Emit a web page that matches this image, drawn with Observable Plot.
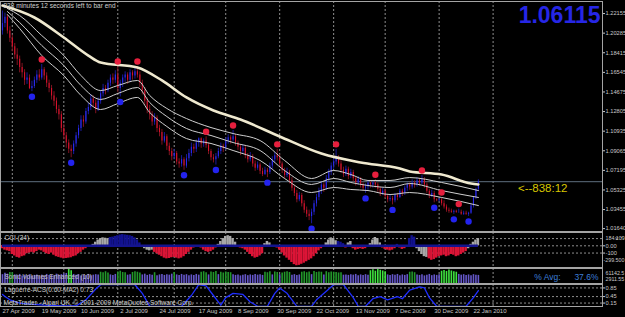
<!DOCTYPE html>
<html><head><meta charset="utf-8">
<script src="https://cdn.jsdelivr.net/npm/d3@7"></script>
<script src="https://cdn.jsdelivr.net/npm/@observablehq/plot@0.6"></script>
<style>
html,body{margin:0;padding:0;background:#000;}
#chart{position:relative;width:625px;height:317px;background:#000;overflow:hidden;}
#chart svg{position:absolute;left:0;display:block;}
</style></head>
<body><div id="chart"></div>
<script>
// ---------- data (USDCAD daily bars, index 0 = 27 Apr 2009) ----------
const open = [1.205,1.212,1.218,1.205,1.198,1.190,1.182,1.178,1.170,1.165,
1.158,1.160,1.150,1.152,1.158,1.163,1.160,1.168,1.162,1.155,
1.150,1.143,1.138,1.130,1.125,1.112,1.105,1.098,1.092,1.090,
1.097,1.105,1.112,1.120,1.118,1.128,1.132,1.140,1.136,1.130,
1.138,1.145,1.150,1.148,1.155,1.160,1.158,1.163,1.150,1.155,
1.160,1.163,1.158,1.165,1.162,1.166,1.163,1.155,1.148,1.138,
1.130,1.125,1.118,1.122,1.112,1.108,1.100,1.104,1.095,1.090,
1.085,1.088,1.080,1.078,1.082,1.076,1.083,1.088,1.094,1.092,
1.098,1.102,1.097,1.100,1.096,1.090,1.084,1.082,1.085,1.090,
1.095,1.093,1.100,1.103,1.101,1.104,1.098,1.094,1.090,1.093,
1.086,1.082,1.085,1.078,1.074,1.077,1.071,1.068,1.072,1.070,
1.076,1.082,1.086,1.084,1.078,1.072,1.067,1.070,1.062,1.055,
1.050,1.044,1.048,1.040,1.034,1.030,1.028,1.032,1.040,1.046,
1.052,1.058,1.055,1.064,1.070,1.076,1.080,1.084,1.078,1.072,
1.068,1.073,1.066,1.070,1.064,1.060,1.063,1.058,1.055,1.056,
1.060,1.058,1.060,1.058,1.054,1.050,1.052,1.047,1.044,1.045,
1.043,1.048,1.046,1.052,1.050,1.055,1.058,1.056,1.060,1.058,
1.062,1.060,1.063,1.058,1.052,1.048,1.050,1.044,1.043,1.044,
1.040,1.037,1.034,1.033,1.032,1.033,1.032,1.032,1.030,1.031,
1.030,1.031,1.038,1.046,1.054];
const high = [1.224,1.222,1.220,1.209,1.201,1.193,1.188,1.181,1.174,1.168,
1.165,1.163,1.157,1.161,1.167,1.168,1.173,1.170,1.165,1.158,
1.153,1.147,1.141,1.134,1.128,1.116,1.108,1.101,1.096,1.100,
1.108,1.115,1.124,1.124,1.131,1.136,1.144,1.143,1.139,1.141,
1.148,1.154,1.153,1.158,1.163,1.164,1.167,1.171,1.158,1.163,
1.166,1.165,1.168,1.167,1.169,1.171,1.166,1.158,1.151,1.141,
1.134,1.128,1.126,1.124,1.115,1.111,1.108,1.106,1.098,1.093,
1.092,1.090,1.083,1.086,1.084,1.087,1.092,1.098,1.097,1.101,
1.103,1.103,1.102,1.104,1.098,1.092,1.087,1.088,1.093,1.098,
1.097,1.103,1.106,1.105,1.110,1.106,1.100,1.096,1.096,1.095,
1.088,1.089,1.087,1.081,1.080,1.079,1.074,1.075,1.074,1.079,
1.085,1.089,1.092,1.087,1.080,1.074,1.074,1.072,1.065,1.058,
1.053,1.051,1.050,1.043,1.037,1.034,1.035,1.043,1.049,1.055,
1.061,1.060,1.067,1.073,1.079,1.083,1.092,1.086,1.081,1.075,
1.076,1.075,1.073,1.072,1.066,1.066,1.065,1.060,1.059,1.062,
1.062,1.061,1.063,1.060,1.056,1.055,1.054,1.049,1.048,1.047,
1.050,1.050,1.054,1.054,1.057,1.060,1.060,1.063,1.062,1.065,
1.064,1.067,1.065,1.060,1.054,1.053,1.052,1.045,1.045,1.046,
1.043,1.039,1.036,1.035,1.034,1.034,1.035,1.034,1.033,1.033,
1.032,1.040,1.047,1.055,1.063];
const low = [1.201,1.208,1.202,1.194,1.185,1.178,1.172,1.165,1.160,1.153,
1.154,1.149,1.147,1.150,1.155,1.157,1.158,1.158,1.151,1.146,
1.139,1.133,1.126,1.120,1.108,1.101,1.093,1.088,1.084,1.087,
1.094,1.102,1.109,1.113,1.116,1.125,1.129,1.132,1.126,1.128,
1.135,1.142,1.144,1.146,1.152,1.154,1.155,1.146,1.142,1.151,
1.156,1.154,1.156,1.158,1.159,1.160,1.151,1.144,1.134,1.126,
1.120,1.114,1.115,1.108,1.104,1.096,1.098,1.091,1.086,1.081,
1.082,1.077,1.074,1.075,1.072,1.074,1.080,1.085,1.088,1.089,
1.094,1.093,1.094,1.093,1.087,1.081,1.079,1.077,1.083,1.087,
1.089,1.091,1.097,1.097,1.099,1.095,1.091,1.086,1.088,1.083,
1.079,1.080,1.075,1.071,1.072,1.068,1.066,1.067,1.065,1.068,
1.073,1.079,1.081,1.075,1.069,1.064,1.065,1.059,1.052,1.047,
1.041,1.042,1.037,1.031,1.027,1.024,1.021,1.029,1.037,1.043,
1.049,1.051,1.053,1.061,1.067,1.073,1.077,1.075,1.069,1.065,
1.066,1.063,1.064,1.061,1.057,1.058,1.055,1.052,1.050,1.053,
1.055,1.055,1.055,1.051,1.047,1.048,1.045,1.041,1.042,1.039,
1.041,1.043,1.045,1.047,1.048,1.052,1.053,1.054,1.055,1.056,
1.057,1.058,1.055,1.050,1.045,1.046,1.041,1.042,1.042,1.038,
1.035,1.032,1.031,1.031,1.030,1.031,1.031,1.029,1.029,1.029,
1.028,1.030,1.036,1.044,1.052];
const close = [1.212,1.218,1.205,1.198,1.190,1.182,1.178,1.170,1.165,1.158,
1.160,1.150,1.152,1.158,1.163,1.160,1.168,1.162,1.155,1.150,
1.143,1.138,1.130,1.125,1.112,1.105,1.098,1.092,1.090,1.097,
1.105,1.112,1.120,1.118,1.128,1.132,1.140,1.136,1.130,1.138,
1.145,1.150,1.148,1.155,1.160,1.158,1.163,1.150,1.155,1.160,
1.163,1.158,1.165,1.162,1.166,1.163,1.155,1.148,1.138,1.130,
1.125,1.118,1.122,1.112,1.108,1.100,1.104,1.095,1.090,1.085,
1.088,1.080,1.078,1.082,1.076,1.083,1.088,1.094,1.092,1.098,
1.102,1.097,1.100,1.096,1.090,1.084,1.082,1.085,1.090,1.095,
1.093,1.100,1.103,1.101,1.104,1.098,1.094,1.090,1.093,1.086,
1.082,1.085,1.078,1.074,1.077,1.071,1.068,1.072,1.070,1.076,
1.082,1.086,1.084,1.078,1.072,1.067,1.070,1.062,1.055,1.050,
1.044,1.048,1.040,1.034,1.030,1.028,1.032,1.040,1.046,1.052,
1.058,1.055,1.064,1.070,1.076,1.080,1.084,1.078,1.072,1.068,
1.073,1.066,1.070,1.064,1.060,1.063,1.058,1.055,1.056,1.060,
1.058,1.060,1.058,1.054,1.050,1.052,1.047,1.044,1.045,1.043,
1.048,1.046,1.052,1.050,1.055,1.058,1.056,1.060,1.058,1.062,
1.060,1.063,1.058,1.052,1.048,1.050,1.044,1.043,1.044,1.040,
1.037,1.034,1.033,1.032,1.033,1.032,1.032,1.030,1.031,1.030,
1.031,1.038,1.046,1.054,1.06115];

const fractalUp = [16,47,55,83,94,112,136,152,171,179,186];
const fractalDown = [12,28,48,74,87,108,126,148,159,176,184,190];

const slowMaIdx = [0,13,25,35,40,55,65,75,86,97,113,130,146,162,166,179,191,194];
const slowMa = [1.2292,1.2178,1.1987,1.1815,1.1749,1.1701,1.1577,1.1415,1.1291,1.1205,1.1043,1.0880,1.0795,1.0737,1.0709,1.0680,1.0594,1.0585];

const fastIdx = [2,7,16,25,32,40,47,55,60,67,75,85,94,105,115,126,135,142,149,158,166,179,194];
const fastMa1 = [1.2264,1.2197,1.2006,1.1815,1.1624,1.1481,1.1529,1.1577,1.1434,1.1310,1.1214,1.1128,1.1071,1.1004,1.0814,1.0642,1.0718,1.0680,1.0623,1.0623,1.0651,1.0604,1.0527];
const fastMa2 = [1.2235,1.2130,1.1911,1.1720,1.1529,1.1396,1.1453,1.1510,1.1367,1.1233,1.1119,1.1052,1.0985,1.0909,1.0718,1.0585,1.0642,1.0604,1.0575,1.0556,1.0594,1.0527,1.0461];
const fastMa3 = [1.2206,1.2073,1.1815,1.1624,1.1434,1.1300,1.1357,1.1415,1.1272,1.1138,1.1023,1.0976,1.0909,1.0814,1.0642,1.0508,1.0556,1.0537,1.0527,1.0489,1.0508,1.0461,1.0384];

const lastPrice = 1.06115;
const minutesLeft = 838, secondsLeft = 12;
const priceTicks = [1.22155,1.20285,1.18415,1.16545,1.14675,1.12805,1.10935,1.09065,1.07195,1.05325,1.03455,1.01640];
const monthStartIdx = [4,25,47,70,91,113,135,156,178,200];
const dateIdx = [0,16,32,48,64,80,96,112,128,144,160,176,192];
const dateLabels = ["27 Apr 2009","19 May 2009","10 Jun 2009","2 Jul 2009","24 Jul 2009","17 Aug 2009","8 Sep 2009","30 Sep 2009","22 Oct 2009","13 Nov 2009","7 Dec 2009","30 Dec 2009","22 Jan 2010"];

const cci = [-40,-60,-70,-80,-120,-140,-160,-170,-150,-140,
-110,-100,-90,-100,-80,-60,-70,-90,-110,-120,
-100,-130,-150,-160,-170,-180,-175,-170,-165,-150,
-140,-110,-90,-60,-40,-20,-5,20,50,80,
100,110,105,100,115,120,130,140,150,155,
150,145,140,130,110,80,40,-20,-40,-60,
-70,-60,-90,-110,-130,-150,-170,-180,-175,-165,
-160,-170,-180,-170,-150,-120,-90,-60,-30,-20,
-10,-30,-60,-80,-90,-80,-60,-30,20,60,
100,130,140,130,100,50,-20,-30,-40,-60,
-90,-120,-150,-170,-160,-140,-110,30,60,40,
-20,-10,-30,-60,-100,-140,-170,-200,-230,-260,
-275,-270,-255,-240,-220,-200,-180,-150,-110,-70,
-40,-10,40,80,110,100,70,60,50,30,
-30,40,60,-40,-60,-50,-40,-50,-40,-20,
30,80,115,100,40,-30,-50,-60,-70,-60,
-40,20,-30,-50,-40,-20,100,140,120,-40,
-80,-120,-150,-160,-180,-200,-190,-170,-150,-140,
-130,-150,-140,-120,-130,-150,-140,-120,-100,-80,
-40,20,50,80,100];
const cciColorRuns = [[0,36,"r"],[37,43,"g"],[44,56,"n"],[57,61,"g"],[62,87,"r"],[88,95,"g"],[96,106,"r"],[107,109,"g"],[110,131,"r"],[132,136,"g"],[137,139,"n"],[140,140,"r"],[141,142,"g"],[143,149,"r"],[150,154,"g"],[155,160,"r"],[161,161,"n"],[162,165,"r"],[166,168,"n"],[169,173,"g"],[174,189,"r"],[190,194,"g"]];

const volume = [36000,42000,38000,45000,44000,35000,33000,37000,31000,34000,
32000,36000,30000,33000,35000,29000,34000,31000,37000,33000,
35000,32000,38000,34000,36000,39000,41000,61000,52000,37000,
34000,36000,31000,35000,33000,37000,32000,34000,36000,35000,
46000,44000,48000,43000,35000,33000,37000,47000,50000,45000,
44000,34000,36000,45000,48000,46000,43000,35000,38000,33000,
36000,34000,44000,32000,35000,37000,33000,36000,34000,38000,
45000,35000,33000,37000,34000,36000,32000,35000,33000,37000,
34000,46000,48000,44000,35000,47000,45000,49000,36000,46000,
43000,47000,45000,44000,36000,33000,35000,31000,34000,36000,
32000,35000,33000,37000,34000,36000,33000,46000,44000,48000,
35000,47000,45000,36000,43000,46000,48000,45000,34000,36000,
33000,35000,46000,48000,44000,47000,36000,49000,45000,47000,
46000,35000,48000,44000,47000,46000,45000,43000,44000,34000,
35000,33000,36000,34000,37000,32000,35000,33000,36000,34000,
52000,56000,50000,58000,54000,51000,48000,35000,33000,36000,
34000,37000,32000,35000,33000,36000,46000,47000,44000,35000,
33000,36000,31000,34000,37000,32000,35000,33000,36000,50000,
53000,49000,55000,51000,48000,46000,37000,34000,36000,33000,
35000,32000,36000,34000,33000];
const volColorRuns = [[0,2,"p"],[3,4,"g"],[5,26,"p"],[27,28,"l"],[29,39,"p"],[40,43,"g"],[44,46,"p"],[47,50,"g"],[51,52,"p"],[53,56,"g"],[57,61,"p"],[62,62,"g"],[63,69,"p"],[70,70,"g"],[71,80,"p"],[81,83,"g"],[84,84,"p"],[85,87,"g"],[88,88,"p"],[89,93,"g"],[94,106,"p"],[107,109,"g"],[110,110,"p"],[111,112,"g"],[113,113,"p"],[114,117,"g"],[118,121,"p"],[122,125,"g"],[126,126,"p"],[127,130,"g"],[131,131,"p"],[132,138,"g"],[139,149,"p"],[150,156,"l"],[157,165,"p"],[166,168,"g"],[169,178,"p"],[179,185,"l"],[186,194,"p"]];
const volMax = 61142.5, volMin = 2911.55, volAvgPct = "37.6%";

const lagIdx = [0,1,3,7,11,17,24,30,34,38,40,54,57,60,73,77,80,83,86,89,91,94,98,101,104,108,111,113,116,120,126,128,132,135,139,143,145,148,151,154,157,161,163,166,170,172,174,177,189,192,194];
const lagVal = [0.55,0.45,0.3,0.15,0.1,0.05,0.02,0.02,0.3,0.8,1.0,1.0,0.6,0,0,0.5,1.0,0.95,0.5,0.05,0.4,0.6,0.55,0.2,0,0,0.6,0.85,0.6,0,0,0.3,0.7,1.0,1.0,0.4,0,0,0.35,0.45,0.3,0.45,0.35,0.75,0.9,0.85,0.4,0,0,0.4,0.73];
const lagLevels = [0.85,0.45,0.15];
const lagLast = "0.73";

// ---------- drawing ----------
const chart = document.getElementById("chart");
const FONT = "'Liberation Sans', Arial, sans-serif";
const N = close.length;
const X = {domain: [-0.815, 244.6], axis: null};
const STYLE = {background: "#000", color: "#c8c8c8", fontFamily: FONT, fontSize: "6px", overflow: "visible"};
const FRAME = "#a4a4a4";
const AX = 5.7; // axis label size
const runOf = (runs, i) => { const r = runs.find(r => i >= r[0] && i <= r[1]); return r ? r[2] : runs[0][2]; };
const grid = () => Plot.ruleX(monthStartIdx, {stroke: "#8e8e8e", strokeDasharray: "2,2"});
const bars = d3.range(N).map(i => ({i, o: open[i], h: high[i], l: low[i], c: close[i], up: close[i] >= open[i]}));
function place(svg, top) { svg.style.top = top + "px"; chart.appendChild(svg); }

// main price window
const main = Plot.plot({
  width: 625, height: 232, marginLeft: 0, marginRight: 23, marginTop: 1, marginBottom: 1,
  style: STYLE,
  x: X,
  y: {domain: [1.01363, 1.23305]},
  marks: [
    grid(),
    Plot.ruleY([lastPrice], {stroke: "#5e6e7e"}),
    Plot.ruleX(bars, {x: "i", y1: "l", y2: "h", stroke: d => d.up ? "#1a1a9a" : "#7e1420", strokeWidth: 1}),
    Plot.ruleX(bars, {x: "i", y1: "o", y2: "c", stroke: d => d.up ? "#2a2af0" : "#d8102c", strokeWidth: 1.1}),
    ...[fastMa1, fastMa2, fastMa3].map(s => Plot.line(fastIdx, {x: d => d, y: (d, k) => s[k], stroke: "#cfcfcf", strokeWidth: 1, curve: "monotone-x"})),
    Plot.line(slowMaIdx, {x: d => d, y: (d, k) => slowMa[k], stroke: "#efe9cf", strokeWidth: 2.6, curve: "monotone-x"}),
    Plot.dot(fractalUp, {x: d => d, y: d => high[d], dy: -5, r: 3.2, fill: "#e61f3d"}),
    Plot.dot(fractalDown, {x: d => d, y: d => low[d], dy: 5, r: 3.2, fill: "#2323ee"}),
    Plot.text([`${minutesLeft} minutes ${secondsLeft} seconds left to bar end`], {frameAnchor: "top-left", dx: 3, dy: 2, lineAnchor: "top", fontSize: 6.5, fill: "#d0d0d0"}),
    Plot.text([lastPrice], {text: d => d.toFixed(5), frameAnchor: "top-right", dx: -2, dy: 5, lineAnchor: "top", textAnchor: "end", fontSize: 23, fontWeight: "bold", fill: "#2626e6"}),
    Plot.text([lastPrice], {y: d => d, text: () => `<--${minutesLeft}:${secondsLeft}`, frameAnchor: "right", dx: -35, dy: 7, textAnchor: "end", fontSize: 11.5, fill: "#d8c600"}),
    Plot.frame({stroke: FRAME}),
    Plot.axisY(priceTicks, {anchor: "right", tickSize: 2, tickPadding: 1, fontSize: AX, tickFormat: d => d.toFixed(5)}),
    Plot.text([lastPrice], {y: d => d, text: d => d.toFixed(5), frameAnchor: "right", dx: 3, textAnchor: "start", fontSize: AX, fill: "#000", ariaLabel: "price-label"})
  ]
});
place(main, 0);
// white box behind the current price label on the axis
d3.select(main).selectAll('g[aria-label="price-label"] text').each(function() {
  const b = this.getBBox();
  d3.select(this.parentNode).insert("rect", "text").attr("x", b.x - 1).attr("y", b.y).attr("width", 24).attr("height", b.height).attr("fill", "#fff").attr("transform", this.getAttribute("transform"));
});

// CCI window
const cciData = cci.map((v, i) => ({i, v, k: runOf(cciColorRuns, i)}));
const cciFill = {r: "#dc1436", n: "#121290", g: "#a8a8a8"};
const cciPlot = Plot.plot({
  width: 625, height: 36, marginLeft: 0, marginRight: 23, marginTop: 0, marginBottom: 1,
  style: STYLE, x: X, y: {domain: [-299.5, 184.109], axis: null},
  marks: [
    grid(),
    Plot.ruleY([100, 0, -100], {stroke: "#8e8e8e", strokeDasharray: "2,2"}),
    Plot.rect(cciData, {x1: d => d.i - 0.5, x2: d => d.i + 0.5, y1: 0, y2: "v", fill: d => cciFill[d.k]}),
    Plot.ruleY([0], {x1: 0, x2: N - 1, stroke: "#14148e", strokeWidth: 2.5}),
    Plot.text(["CCI (34)"], {frameAnchor: "top-left", dx: 4, dy: 3, lineAnchor: "top", fontSize: 6.5, fill: "#d0d0d0"}),
    Plot.frame({stroke: FRAME}),
    Plot.axisY([0, -100], {anchor: "right", tickSize: 2, tickPadding: 1, fontSize: AX, tickFormat: d => d === 0 ? "0.00" : String(d)}),
    Plot.text([184.109], {y: d => d, text: d => d.toFixed(3), frameAnchor: "right", dx: 3, dy: 5.5, textAnchor: "start", fontSize: 5.3, fill: "#c8c8c8"}),
    Plot.text([-299.5], {y: d => d, text: d => d.toFixed(3), frameAnchor: "right", dx: 1, dy: -7, textAnchor: "start", fontSize: 5.3, fill: "#c8c8c8"})
  ]
});
place(cciPlot, 232);

// Volumes window
const volData = volume.map((v, i) => ({i, v, k: runOf(volColorRuns, i)}));
const volFill = {p: "#6557c8", g: "#22962a", l: "#3fe23f"};
const volPlot = Plot.plot({
  width: 625, height: 16, marginLeft: 0, marginRight: 23, marginTop: 0, marginBottom: 1,
  style: STYLE, x: X, y: {domain: [0, volMax], axis: null},
  marks: [
    grid(),
    Plot.ruleX(volData, {x: "i", y1: 0, y2: "v", stroke: d => volFill[d.k], strokeWidth: 1.6}),
    Plot.text(["Sonic Volumes Enhanced (10)"], {frameAnchor: "left", dx: 4, dy: 1, fontSize: 6.5, fill: "#c0c0c0"}),
    Plot.text(["% Avg:"], {frameAnchor: "right", dx: -42, dy: 1, textAnchor: "end", fontSize: 8.5, fill: "#3d7fd8"}),
    Plot.text([volAvgPct], {frameAnchor: "right", dx: -4, dy: 1, textAnchor: "end", fontSize: 8.5, fill: "#3d7fd8"}),
    Plot.frame({stroke: FRAME}),
    Plot.text([volMax], {text: d => String(d), frameAnchor: "top-right", dx: 3, dy: 3, textAnchor: "start", fontSize: 5.3, fill: "#c8c8c8"}),
    Plot.text([volMin], {text: d => String(d), frameAnchor: "bottom-right", dx: 3, dy: -2.5, textAnchor: "start", fontSize: 5.3, fill: "#c8c8c8"})
  ]
});
place(volPlot, 268);

// Laguerre window + date axis
const lagPlot = Plot.plot({
  width: 625, height: 33, marginLeft: 0, marginRight: 23, marginTop: 0, marginBottom: 11,
  style: STYLE, x: {domain: X.domain}, y: {domain: [-0.01, 1.01]},
  marks: [
    grid(),
    Plot.ruleY(lagLevels, {stroke: "#8e8e8e", strokeDasharray: "2,2"}),
    Plot.line(lagIdx, {x: d => d, y: (d, k) => lagVal[k], stroke: "#1f2eff", strokeWidth: 1.3}),
    Plot.text([`Laguerre-ACS(0.60-MA2) ${lagLast}`], {frameAnchor: "top-left", dx: 4, dy: 3, lineAnchor: "top", fontSize: 6.5, fill: "#d0d0d0"}),
    Plot.text(["MetaTrader - Alpari UK, © 2001-2009 MetaQuotes Software Corp."], {frameAnchor: "bottom-left", dx: 3, dy: -2, lineAnchor: "bottom", fontSize: 6.5, fill: "#d0d0d0"}),
    Plot.frame({stroke: FRAME}),
    Plot.axisY(lagLevels, {anchor: "right", tickSize: 2, tickPadding: 1, fontSize: AX, tickFormat: d => d.toFixed(2)}),
    Plot.axisX(dateIdx, {anchor: "bottom", tickSize: 0, tickPadding: 2, fontSize: 6, textAnchor: "start", tickFormat: d => dateLabels[dateIdx.indexOf(d)]})
  ]
});
place(lagPlot, 284);
</script>
</body></html>
